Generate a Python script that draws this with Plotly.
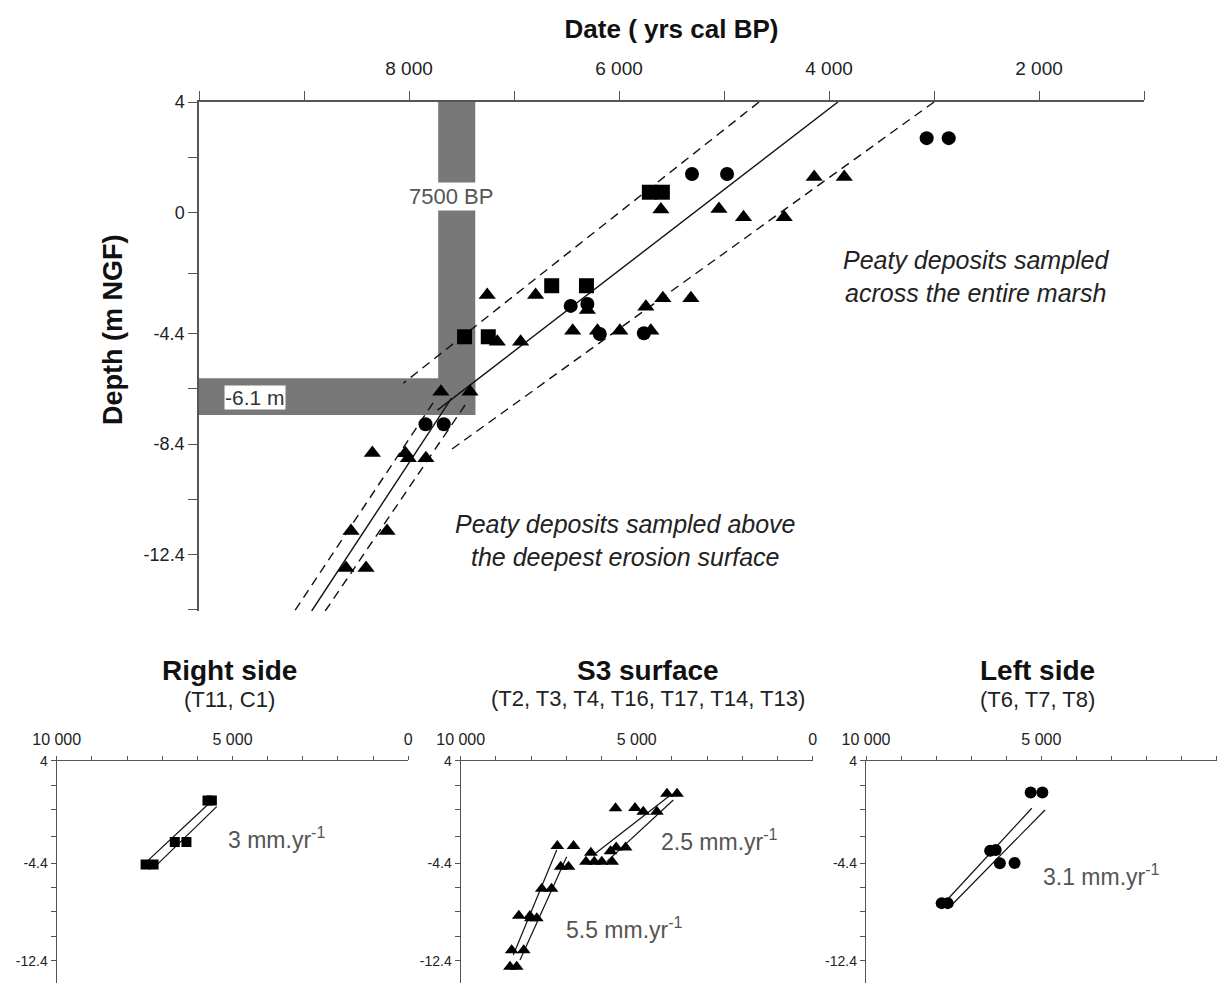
import plotly.graph_objects as go

W, H = 1218, 983
FONT = "Liberation Sans, Arial, sans-serif"

# ---------------- data (years cal BP, depth m NGF) ----------------
circle_year = [3070, 2860, 5305, 4971, 6460, 6301, 6183, 5763, 7843, 7669]
circle_depth = [2.69, 2.69, 1.39, 1.39, -3.39, -3.32, -4.41, -4.38, -7.68, -7.68]

square_year = [5711, 5587, 6641, 6310, 7471, 7245]
square_depth = [0.73, 0.73, -2.66, -2.66, -4.51, -4.51]

triangle_year = [5601, 5048, 4814, 4427, 4141, 3855, 7255, 6794, 6301, 6441,
                 6205, 5992, 5697, 5744, 5582, 5315, 7159, 6937, 7696, 7419,
                 8349, 8034, 8006, 7839, 8552, 8209, 8600, 8409]
triangle_depth = [0.10, 0.12, -0.18, -0.18, 1.28, 1.28, -3.00, -3.00, -3.54, -4.29,
                  -4.29, -4.29, -4.29, -3.42, -3.11, -3.11, -4.69, -4.69, -6.50, -6.50,
                  -8.72, -8.73, -8.91, -8.91, -11.55, -11.55, -12.89, -12.89]

# left side panel uses the T6, T7, T8 circles (the two youngest are not included)
left_circle_year = circle_year[2:]
left_circle_depth = circle_depth[2:]

# regression lines, main chart
upper_fit_year, upper_fit_depth = [3915, 7729], [4.0, -7.17]
upper_ci_a_year, upper_ci_a_depth = [4666, 8053], [4.0, -6.19]
upper_ci_b_year, upper_ci_b_depth = [2999, 7605], [4.0, -8.62]
lower_fit_year, lower_fit_depth = [8927, 7595], [-14.45, -6.73]
lower_ci_a_year, lower_ci_a_depth = [9084, 7767], [-14.42, -6.88]
lower_ci_b_year, lower_ci_b_depth = [8798, 7433], [-14.45, -6.80]

# envelope lines, small panels
right_a_year, right_a_depth = [5660, 7469], [0.51, -4.36]
right_b_year, right_b_depth = [5449, 7204], [0.23, -4.69]
s3_up_a_year, s3_up_a_depth = [4074, 6233], [1.10, -3.73]
s3_up_b_year, s3_up_b_depth = [3960, 5852], [0.78, -4.28]
s3_lo_a_year, s3_lo_a_depth = [7273, 8506], [-3.32, -11.93]
s3_lo_b_year, s3_lo_b_depth = [6989, 8315], [-3.87, -12.34]
left_a_year, left_a_depth = [5275, 7776], [0.10, -7.69]
left_b_year, left_b_depth = [4896, 7556], [-0.04, -7.83]

# reference bands
band_7500_years = [7722, 7369]
band_depth_m = [-6.01, -7.35]

# ticks
main_x_tickvals = [8000, 6000, 4000, 2000]
main_x_ticktext = ["8 000", "6 000", "4 000", "2 000"]
main_x_minor = [10000, 9000, 7000, 5000, 3000, 1000]
main_y_tickvals = [4, 0, -4.4, -8.4, -12.4]
main_y_ticktext = ["4", "0", "-4.4", "-8.4", "-12.4"]
main_y_minor = [2, -2.2, -6.4, -10.4, -14.4]
panel_y_tickvals = [4, -4.4, -12.4]
panel_y_ticktext = ["4", "-4.4", "-12.4"]
panel_y_minor = [2, 0, -2.2, -6.4, -8.4, -10.4, -14.4]
panel_x_tickvals = [10000, 5000, 0]
panel_x_ticktext = ["10 000", "5 000", "0"]
panel_x_minor = [9000, 8000, 7000, 6000, 4000, 3000, 2000, 1000]


def fx(p):
    return p / W


def fy(p):
    return 1 - p / H


fig = go.Figure()

LINE = "#111111"


def add_line(x, y, xa, ya, dash=None, width=1.4):
    fig.add_trace(go.Scatter(x=x, y=y, mode="lines", xaxis=xa, yaxis=ya,
                             line=dict(color=LINE, width=width, dash=dash),
                             hoverinfo="skip", showlegend=False))


def add_pts(x, y, xa, ya, symbol, size):
    fig.add_trace(go.Scatter(x=x, y=y, mode="markers", xaxis=xa, yaxis=ya,
                             marker=dict(symbol=symbol, size=size, color="#000000",
                                         line=dict(width=0)),
                             showlegend=False))


DASH = "9px,6px"
# main chart lines
add_line(upper_fit_year, upper_fit_depth, "x", "y")
add_line(upper_ci_a_year, upper_ci_a_depth, "x", "y", DASH)
add_line(upper_ci_b_year, upper_ci_b_depth, "x", "y", DASH)
add_line(lower_fit_year, lower_fit_depth, "x", "y")
add_line(lower_ci_a_year, lower_ci_a_depth, "x", "y", DASH)
add_line(lower_ci_b_year, lower_ci_b_depth, "x", "y", DASH)

# main chart markers
add_pts(triangle_year, triangle_depth, "x", "y", "triangle-up", 15)
add_pts(square_year, square_depth, "x", "y", "square", 15)
add_pts(circle_year, circle_depth, "x", "y", "circle", 14)

# Right side panel
add_line(right_a_year, right_a_depth, "x2", "y2", width=1.2)
add_line(right_b_year, right_b_depth, "x2", "y2", width=1.2)
add_pts(square_year, square_depth, "x2", "y2", "square", 10)

# S3 surface panel
for xs, ys in [(s3_up_a_year, s3_up_a_depth), (s3_up_b_year, s3_up_b_depth),
               (s3_lo_a_year, s3_lo_a_depth), (s3_lo_b_year, s3_lo_b_depth)]:
    add_line(xs, ys, "x3", "y3", width=1.2)
add_pts(triangle_year, triangle_depth, "x3", "y3", "triangle-up", 12)

# Left side panel
add_line(left_a_year, left_a_depth, "x4", "y4", width=1.2)
add_line(left_b_year, left_b_depth, "x4", "y4", width=1.2)
add_pts(left_circle_year, left_circle_depth, "x4", "y4", "circle", 12)

AX = "#555555"
TICKC = "#222222"

main_x = dict(range=[10000, 1000], side="top", anchor="y", domain=[fx(199), fx(1144)],
              automargin=False,
              tickmode="array", tickvals=main_x_tickvals, ticktext=main_x_ticktext,
              ticks="outside", ticklen=9, tickcolor=AX, tickwidth=1.3,
              minor=dict(tickmode="array", tickvals=main_x_minor, ticks="outside",
                         ticklen=9, tickcolor=AX, tickwidth=1.3, showgrid=False),
              showline=True, linecolor=AX, linewidth=1.5, showgrid=False, zeroline=False,
              tickfont=dict(family=FONT, size=19, color=TICKC), ticklabelstandoff=9,
              title=dict(text="<b>Date ( yrs cal BP)</b>", standoff=12,
                         font=dict(family=FONT, size=26, color="#111")))
main_y = dict(range=[-14.45, 4], anchor="x", domain=[fy(611), fy(102)],
              automargin=False,
              tickmode="array", tickvals=main_y_tickvals, ticktext=main_y_ticktext,
              ticks="outside", ticklen=9, tickcolor=AX, tickwidth=1.3,
              minor=dict(tickmode="array", tickvals=main_y_minor, ticks="outside",
                         ticklen=9, tickcolor=AX, tickwidth=1.3, showgrid=False),
              showline=True, linecolor=AX, linewidth=1.5, showgrid=False, zeroline=False,
              tickfont=dict(family=FONT, size=18, color=TICKC))


def panel_axes(x0, x1):
    xa = dict(range=[10000, 0], side="top", domain=[fx(x0), fx(x1)], automargin=False,
              tickmode="array", tickvals=panel_x_tickvals, ticktext=panel_x_ticktext,
              ticks="outside", ticklen=4, tickcolor=AX, tickwidth=1.2,
              minor=dict(tickmode="array", tickvals=panel_x_minor, ticks="outside",
                         ticklen=4, tickcolor=AX, tickwidth=1.2, showgrid=False),
              showline=True, linecolor=AX, linewidth=1.4, showgrid=False, zeroline=False,
              tickfont=dict(family=FONT, size=16, color=TICKC), ticklabelstandoff=4)
    ya = dict(range=[-14.23, 4], domain=[0, fy(760.7)], automargin=False,
              tickmode="array", tickvals=panel_y_tickvals, ticktext=panel_y_ticktext,
              ticks="outside", ticklen=5, tickcolor=AX, tickwidth=1.2,
              minor=dict(tickmode="array", tickvals=panel_y_minor, ticks="outside",
                         ticklen=5, tickcolor=AX, tickwidth=1.2, showgrid=False),
              showline=True, linecolor=AX, linewidth=1.4, showgrid=False, zeroline=False,
              tickfont=dict(family=FONT, size=14, color=TICKC))
    return xa, ya


x2, y2 = panel_axes(56.7, 408.3)
x3, y3 = panel_axes(460.7, 812.7)
x4, y4 = panel_axes(866, 1216.7)
x2["anchor"], y2["anchor"] = "y2", "x2"
x3["anchor"], y3["anchor"] = "y3", "x3"
x4["anchor"], y4["anchor"] = "y4", "x4"

BAND = "#787878"
shapes = [
    dict(type="rect", xref="x", yref="y", layer="below",
         x0=band_7500_years[0], x1=band_7500_years[1], y0=4, y1=band_depth_m[1],
         fillcolor=BAND, line=dict(width=0)),
    dict(type="rect", xref="x", yref="y", layer="below",
         x0=10000, x1=band_7500_years[1], y0=band_depth_m[0], y1=band_depth_m[1],
         fillcolor=BAND, line=dict(width=0)),
]

GREY_TXT = "#555555"


def pann(x, y, text, size, color="#222", **kw):
    return dict(x=fx(x), y=fy(y), xref="paper", yref="paper", text=text,
                showarrow=False, xanchor="center", yanchor="middle",
                font=dict(family=FONT, size=size, color=color), **kw)


annotations = [
    dict(x=7600, y=0.56, xref="x", yref="y", text="7500 BP", showarrow=False,
         xanchor="center", yanchor="middle",
         font=dict(family=FONT, size=22, color=GREY_TXT), bgcolor="white", borderpad=1),
    dict(x=9466, y=-6.71, xref="x", yref="y", text="-6.1 m", showarrow=False,
         xanchor="center", yanchor="middle",
         font=dict(family=FONT, size=21, color="#333"), bgcolor="white", borderpad=0),
    dict(x=2595, y=-2.31, xref="x", yref="y",
         text="<i>Peaty deposits sampled<br>across the entire marsh</i>", showarrow=False,
         xanchor="center", yanchor="middle",
         font=dict(family=FONT, size=25, color="#222")),
    dict(x=5935, y=-11.88, xref="x", yref="y",
         text="<i>Peaty deposits sampled above<br>the deepest erosion surface</i>", showarrow=False,
         xanchor="center", yanchor="middle",
         font=dict(family=FONT, size=25, color="#222")),
    # y-axis title (placed as in the reference, above the axis centre)
    pann(113, 330, "<b>Depth (m NGF)</b>", 27, "#111", textangle=-90),
    # panel titles
    pann(229, 670, "<b>Right side</b>", 28, "#111"),
    pann(229, 699, "(T11, C1)", 22, "#222"),
    pann(648, 670, "<b>S3 surface</b>", 28, "#111"),
    pann(648, 698, "(T2, T3, T4, T16, T17, T14, T13)", 22, "#222"),
    pann(1037, 670, "<b>Left side</b>", 28, "#111"),
    pann(1037, 699, "(T6, T7, T8)", 22, "#222"),
    # rates
    pann(276, 838, "3 mm.yr<sup>-1</sup>", 23, GREY_TXT),
    pann(719, 840, "2.5 mm.yr<sup>-1</sup>", 23, GREY_TXT),
    pann(624, 928, "5.5 mm.yr<sup>-1</sup>", 23, GREY_TXT),
    pann(1101, 875, "3.1 mm.yr<sup>-1</sup>", 23, GREY_TXT),
]

fig.update_layout(
    width=W, height=H, margin=dict(l=0, r=0, t=0, b=0, autoexpand=False),
    paper_bgcolor="white", plot_bgcolor="white", showlegend=False,
    font=dict(family=FONT, color="#222"),
    xaxis=main_x, yaxis=main_y,
    xaxis2=x2, yaxis2=y2, xaxis3=x3, yaxis3=y3, xaxis4=x4, yaxis4=y4,
    shapes=shapes, annotations=annotations,
)

fig.write_html(
    "out.html",
    config={"displayModeBar": False},
    post_script="document.body.style.margin='0';document.body.style.padding='0';"
                "document.documentElement.style.overflow='hidden';",
)
